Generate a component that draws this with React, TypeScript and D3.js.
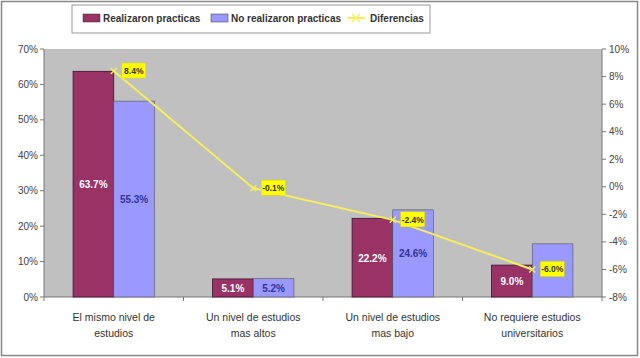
import React from "react";
import * as d3 from "d3";

const categories = [
  ["El mismo nivel de", "estudios"],
  ["Un nivel de estudios", "mas altos"],
  ["Un nivel de estudios", "mas bajo"],
  ["No requiere estudios", "universitarios"],
];
const realizaron = [63.7, 5.1, 22.2, 9.0];
const noRealizaron = [55.3, 5.2, 24.6, 15.0];
// the last blue label is hidden behind the difference label in the reference
const noRealizaronLabelShown = [true, true, true, false];
const diferencias = [8.4, -0.1, -2.4, -6.0];
const leftTicks = [0, 10, 20, 30, 40, 50, 60, 70];
const rightTicks = [-8, -6, -4, -2, 0, 2, 4, 6, 8, 10];
const seriesNames = ["Realizaron practicas", "No realizaron practicas", "Diferencias"];

const W = 640, H = 358;
const L = 44, R = 602, T = 49, B = 297;
const FONT = "Liberation Sans, Arial, sans-serif";
const C1 = "#993366", C2 = "#9999ff", CY = "#f4f05a";

export default function App() {
  const x = d3.scaleBand<number>().domain(d3.range(categories.length)).range([L, R]);
  const inner = d3.scaleBand<number>().domain([0, 1]).range([0, x.bandwidth()]).paddingOuter(0.715);
  const yL = d3.scaleLinear().domain([0, 70]).range([B, T]);
  const yR = d3.scaleLinear().domain([-8, 10]).range([B, T]);
  const cx = (i: number) => (x(i) as number) + x.bandwidth() / 2;
  const line = d3.line<number>().x((_, i) => cx(i)).y((d) => yR(d));
  const bw = inner.bandwidth();

  return (
    <svg width={W} height={H} style={{ position: "absolute", left: 0, top: 0, background: "#fff" }} fontFamily={FONT}>
      <rect x={1.5} y={1.5} width={W - 4} height={H - 4} fill="#fff" stroke="#888" strokeWidth={1.5} />
      {/* legend */}
      <rect x={72} y={5} width={358} height={28} fill="#fff" stroke="#999" strokeWidth={1} />
      <rect x={83} y={14} width={17} height={8} fill={C1} stroke="#333" strokeWidth={0.5} />
      <text x={103} y={22} fontSize={10} fontWeight="bold" fill="#333">{seriesNames[0]}</text>
      <rect x={211} y={14} width={17} height={8} fill={C2} stroke="#333" strokeWidth={0.5} />
      <text x={231} y={22} fontSize={10} fontWeight="bold" fill="#333">{seriesNames[1]}</text>
      <line x1={347} x2={365} y1={18} y2={18} stroke={CY} strokeWidth={2} />
      <path d="M352,14 L360,22 M360,14 L352,22" stroke={CY} strokeWidth={1.5} />
      <text x={370} y={22} fontSize={10} fontWeight="bold" fill="#333">{seriesNames[2]}</text>

      {/* plot area */}
      <rect x={L} y={T} width={R - L} height={B - T} fill="#c0c0c0" />
      <line x1={L} x2={L} y1={T} y2={B} stroke="#777" />
      <line x1={R} x2={R} y1={T} y2={B} stroke="#777" />
      <line x1={L} x2={R} y1={B} y2={B} stroke="#777" />
      {leftTicks.map((t) => (
        <g key={"l" + t}>
          <line x1={L - 4} x2={L} y1={yL(t)} y2={yL(t)} stroke="#777" />
          <text x={L - 6} y={yL(t) + 3.5} fontSize={10} textAnchor="end" fill="#444">{t}%</text>
        </g>
      ))}
      {rightTicks.map((t) => (
        <g key={"r" + t}>
          <line x1={R} x2={R + 4} y1={yR(t)} y2={yR(t)} stroke="#777" />
          <text x={R + 7} y={yR(t) + 3.5} fontSize={10} fill="#444">{t}%</text>
        </g>
      ))}
      {d3.range(categories.length + 1).map((i) => (
        <line key={"xt" + i} x1={L + i * x.bandwidth()} x2={L + i * x.bandwidth()} y1={B} y2={B + 4} stroke="#777" />
      ))}
      {categories.map((c, i) => (
        <text key={"c" + i} x={cx(i)} textAnchor="middle" fontSize={10.5} fill="#333">
          <tspan x={cx(i)} y={321}>{c[0]}</tspan>
          <tspan x={cx(i)} y={337}>{c[1]}</tspan>
        </text>
      ))}

      {/* bars */}
      {realizaron.map((v, i) => {
        const bx = (x(i) as number) + (inner(0) as number);
        return (
          <g key={"a" + i}>
            <rect x={bx} y={yL(v)} width={bw} height={B - yL(v)} fill={C1} stroke="#3a1030" strokeWidth={0.8} />
            <text x={bx + bw / 2} y={(yL(v) + B) / 2 + 4} textAnchor="middle" fontSize={10} fontWeight="bold" fill="#fff">
              {v.toFixed(1)}%
            </text>
          </g>
        );
      })}
      {noRealizaron.map((v, i) => {
        const bx = (x(i) as number) + (inner(1) as number);
        return (
          <g key={"b" + i}>
            <rect x={bx} y={yL(v)} width={bw} height={B - yL(v)} fill={C2} stroke="#555" strokeWidth={0.6} />
            {noRealizaronLabelShown[i] && (
              <text x={bx + bw / 2} y={(yL(v) + B) / 2 + 4} textAnchor="middle" fontSize={10} fontWeight="bold" fill="#333399">
                {v.toFixed(1)}%
              </text>
            )}
          </g>
        );
      })}

      {/* difference line */}
      <path d={line(diferencias) || ""} fill="none" stroke={CY} strokeWidth={2} />
      {diferencias.map((v, i) => (
        <g key={"d" + i}>
          <path d={`M${cx(i) - 3},${yR(v) - 3} L${cx(i) + 3},${yR(v) + 3} M${cx(i) + 3},${yR(v) - 3} L${cx(i) - 3},${yR(v) + 3}`} stroke={CY} strokeWidth={1.5} />
          <rect x={cx(i) + 8} y={yR(v) - 8} width={24} height={15} fill="#ffff00" stroke="#d8d800" strokeWidth={0.5} />
          <text x={cx(i) + 20} y={yR(v) + 3} textAnchor="middle" fontSize={8.5} fontWeight="bold" fill="#333">
            {v.toFixed(1)}%
          </text>
        </g>
      ))}
    </svg>
  );
}
